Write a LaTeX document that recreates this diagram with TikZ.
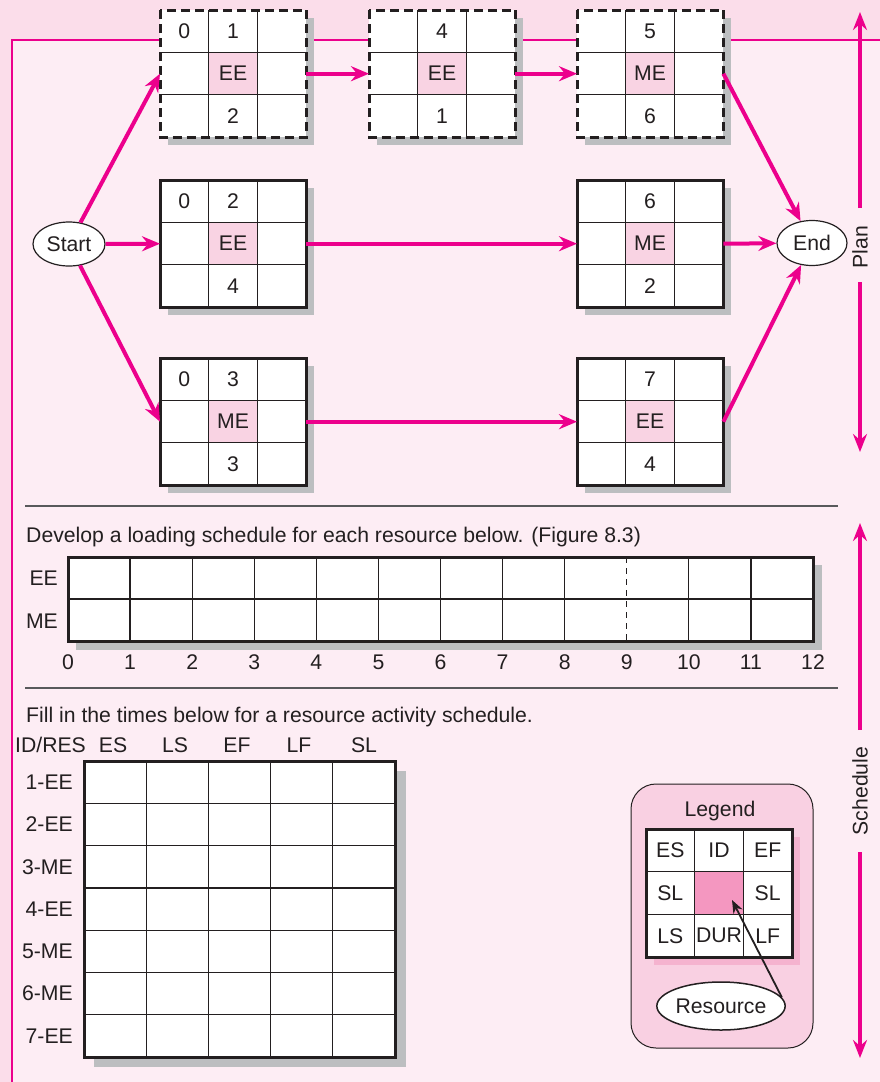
\documentclass[tikz,border=0pt]{standalone}
\usepackage{fontspec}
\setmainfont{Liberation Sans}
\usetikzlibrary{shapes.geometric,arrows.meta}
\definecolor{bgdark}{HTML}{FBDDEA}
\definecolor{bglight}{HTML}{FDEDF4}
\definecolor{mag}{HTML}{EC008C}
\definecolor{shad}{HTML}{BCBEC0}
\definecolor{cellpink}{HTML}{F9D3E3}
\definecolor{legpink}{HTML}{F9D0E2}
\definecolor{legcore}{HTML}{F497C0}
\definecolor{legshad}{HTML}{F5B3CF}
\definecolor{ink}{HTML}{231F20}
\definecolor{sepgray}{HTML}{58595B}
\tikzset{
  txt/.style={font=\fontsize{21.2}{25}\selectfont, text=ink, inner sep=0pt},
  outerline/.style={draw=ink, line width=3pt},
  innerline/.style={draw=ink, line width=1.3pt},
  flow/.style={draw=mag, line width=4pt, -{Stealth[length=18pt,width=15pt,inset=6pt]}},
  framel/.style={draw=mag, line width=2.8pt},
  vert/.style={draw=mag, line width=4.2pt, -{Stealth[length=18pt,width=14pt,inset=6pt]}},
  oval/.style={ellipse, draw=ink, fill=white, line width=1.2pt, inner sep=0pt},
  cellnode/.style={rectangle, inner sep=0pt, minimum width=146pt, minimum height=127pt, fill=white, anchor=north west},
  dashedborder/.style={dash pattern=on 9pt off 5pt},
  solidborder/.style={},
  sepline/.style={draw=sepgray, line width=1.2pt},
  blackarrow/.style={draw=ink, line width=1.8pt, -{Stealth[length=13pt,width=10pt,inset=4pt]}},
}
\newcommand{\celltext}[3]{\if\relax\detokenize{#3}\relax\else\node[txt] at (#1,#2) {#3};\fi}
\newcommand{\actbox}[8]{%
  \fill[shad] (#2+8,#3+8) rectangle (#2+154,#3+135);
  \node[cellnode] (#1) at (#2,#3) {};
  \fill[cellpink] (#2+48.67,#3+42.33) rectangle (#2+97.33,#3+84.67);
  \draw[innerline] (#2+48.67,#3) -- (#2+48.67,#3+127) (#2+97.33,#3) -- (#2+97.33,#3+127)
                   (#2,#3+42.33) -- (#2+146,#3+42.33) (#2,#3+84.67) -- (#2+146,#3+84.67);
  \draw[outerline,#4] (#1.north west) rectangle (#1.south east);
  \celltext{#2+24.33}{#3+21.17}{#5}
  \celltext{#2+73}{#3+21.17}{#6}
  \celltext{#2+73}{#3+63.5}{#7}
  \celltext{#2+73}{#3+105.83}{#8}
}
\begin{document}
\begin{tikzpicture}[x=1pt,y=-1pt]
\useasboundingbox (0,0) rectangle (880,1082);
\fill[bgdark] (0,0) rectangle (880,1082);
\fill[bglight] (12,40) rectangle (880,1082);
% frame line
\coordinate (fb) at (12,1090);
\coordinate (fc) at (12,40);
\coordinate (fr) at (885,40);
\draw[framel] (fb) -- (fc) -- (fr);

% activity boxes
\actbox{b1}{160}{10}{dashedborder}{0}{1}{EE}{2}
\actbox{b2}{369}{10}{dashedborder}{}{4}{EE}{1}
\actbox{b3}{577}{10}{dashedborder}{}{5}{ME}{6}
\actbox{b4}{160}{180}{solidborder}{0}{2}{EE}{4}
\actbox{b5}{577}{180}{solidborder}{}{6}{ME}{2}
\actbox{b6}{160}{358}{solidborder}{0}{3}{ME}{3}
\actbox{b7}{577}{358}{solidborder}{}{7}{EE}{4}

\node[oval, txt, draw=ink, fill=white, minimum width=72pt, minimum height=44pt] (startn) at (69,244) {Start};
\node[oval, txt, draw=ink, fill=white, minimum width=70pt, minimum height=45pt] (endn) at (812,243) {End};

\draw[flow] (startn) -- (b1.west);
\draw[flow] (startn) -- (b4.west);
\draw[flow] (startn) -- (b6.west);
\draw[flow] (b1.east) -- (b2.west);
\draw[flow] (b2.east) -- (b3.west);
\draw[flow] (b4.east) -- (b5.west);
\draw[flow] (b6.east) -- (b7.west);
\draw[flow] (b3.east) -- (endn);
\draw[flow] (b5.east) -- (endn);
\draw[flow] (b7.east) -- (endn);

% side arrows
\coordinate (pa) at (860,208); \coordinate (pat) at (860,12);
\coordinate (pb) at (860,282); \coordinate (pbt) at (860,452);
\draw[vert] (pa) -- (pat);
\draw[vert] (pb) -- (pbt);
\node[txt, rotate=90] (plan) at (860,247) {Plan};
\coordinate (sa) at (860,730); \coordinate (sat) at (860,523);
\coordinate (sb) at (860,852); \coordinate (sbt) at (860,1058);
\draw[vert] (sa) -- (sat);
\draw[vert] (sb) -- (sbt);
\node[txt, rotate=90] (sched) at (860,791) {Schedule};

% separators
\coordinate (s1a) at (25,506); \coordinate (s1b) at (838,506);
\coordinate (s2a) at (25,688); \coordinate (s2b) at (838,688);
\draw[sepline] (s1a) -- (s1b);
\draw[sepline] (s2a) -- (s2b);

% loading schedule
\node[txt, anchor=base west] (t1) at (26,542) {Develop a loading schedule for each resource below. (Figure 8.3)};
\fill[shad] (76,565) rectangle (822,650);
\node[fill=white, inner sep=0pt, minimum width=745pt, minimum height=84pt, anchor=north west] (lgrid) at (68,557) {};
\foreach \i in {1,2,3,4,5,6,7,8,10,11} \draw[innerline] (68+\i*62.083,557) -- (68+\i*62.083,641);
\draw[innerline, dash pattern=on 6pt off 5pt] (68+9*62.083,557) -- (68+9*62.083,641);
\draw[innerline] (68,599) -- (813,599);
\draw[outerline] (lgrid.north west) rectangle (lgrid.south east);
\node[txt, anchor=east] (lee) at (58,578) {EE};
\node[txt, anchor=east] (lme) at (58,621) {ME};
\foreach \i in {0,...,12} \node[txt] at (68+\i*62.083,662) {\i};

% resource activity schedule
\node[txt, anchor=base west] (t2) at (26,722) {Fill in the times below for a resource activity schedule.};
\node[txt, anchor=base west] (hid) at (15,752) {ID/RES};
\node[txt, anchor=base] (hes) at (113,752) {ES};
\node[txt, anchor=base] (hls) at (175,752) {LS};
\node[txt, anchor=base] (hef) at (237,752) {EF};
\node[txt, anchor=base] (hlf) at (299,752) {LF};
\node[txt, anchor=base] (hsl) at (364,752) {SL};
\fill[shad] (94,771) rectangle (406,1067);
\node[fill=white, inner sep=0pt, minimum width=311pt, minimum height=296pt, anchor=north west] (atab) at (84,761) {};
\foreach \i in {1,2,3,4} \draw[innerline] (84+\i*62.2,761) -- (84+\i*62.2,1057);
\foreach \j in {1,...,6} \draw[innerline] (84,761+\j*42.286) -- (395,761+\j*42.286);
\draw[outerline] (atab.north west) rectangle (atab.south east);
\foreach \lab [count=\j from 0] in {1-EE,2-EE,3-ME,4-EE,5-ME,6-ME,7-EE}
  \node[txt, anchor=east] at (73,782.14+\j*42.286) {\lab};

% legend
\draw[draw=ink, fill=legpink, line width=1pt, rounded corners=25pt] (631,784) rectangle (813,1048);
\node[txt, anchor=base] (legt) at (720,816) {Legend};
\fill[legshad] (654,837) rectangle (800,965);
\node[fill=white, inner sep=0pt, minimum width=146pt, minimum height=128pt, anchor=north west] (lg) at (646,829) {};
\fill[legcore] (694.67,871.67) rectangle (743.33,914.33);
\draw[innerline] (694.67,829) -- (694.67,957) (743.33,829) -- (743.33,957)
                 (646,871.67) -- (792,871.67) (646,914.33) -- (792,914.33);
\draw[outerline] (lg.north west) rectangle (lg.south east);
\node[txt] at (670.3,850.3) {ES};
\node[txt] at (719,850.3) {ID};
\node[txt] at (767.7,850.3) {EF};
\node[txt] at (670.3,893) {SL};
\node[txt] at (767.7,893) {SL};
\node[txt] at (670.3,935.7) {LS};
\node[txt] at (719,935.7) {DUR};
\node[txt] at (767.7,935.7) {LF};
\node[oval, txt, draw=ink, line width=1.5pt, minimum width=122pt, minimum height=48pt] (res) at (721,1006) {Resource};
\coordinate (rt) at (732,900);
\draw[blackarrow] (res.8) -- (rt);
\end{tikzpicture}
\end{document}
